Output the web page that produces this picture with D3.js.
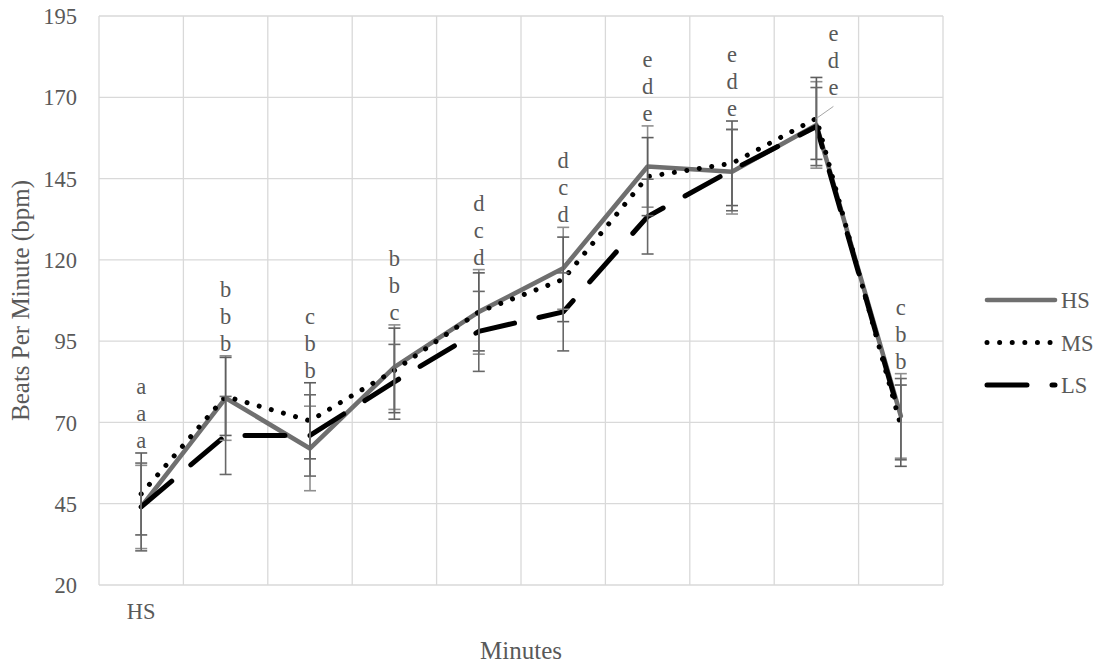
<!DOCTYPE html>
<html>
<head>
<meta charset="utf-8">
<script src="https://cdn.jsdelivr.net/npm/d3@7"></script>
<style>
	body { margin: 0; background: #fff; }
</style>
</head>
<body>
<div id="chart"></div>
<script>
// categories (only the first one carries a label)
const categories = [0, 1, 2, 3, 4, 5, 6, 7, 8, 9];
const tick_labels = ['HS', '', '', '', '', '', '', '', '', ''];
const y_ticks = [20, 45, 70, 95, 120, 145, 170, 195];

const hs_values = [44, 77.5, 62, 87, 104, 117.4, 148.7, 147.1, 161.5, 72];
const ms_values = [48, 78, 70.5, 86, 104, 114, 145.6, 149.7, 163.5, 69];
const ls_values = [44, 66, 66, 82.5, 98, 104, 133.3, 147.6, 161, 71];

const hs_error = [12.8, 13, 13, 13, 13, 12.6, 12.5, 13, 13.3, 13];
const ms_error = [12.6, 12, 11.7, 13, 12, 13, 12, 13, 12.6, 12.5];
const ls_error = [13.5, 12, 12.5, 11.5, 12.3, 12, 11.5, 12.5, 12, 12.5];

// significance letters, top to bottom
const letters_top = ['a', 'b', 'c', 'b', 'd', 'd', 'e', 'e', 'e', 'c'];
const letters_mid = ['a', 'b', 'b', 'b', 'c', 'c', 'd', 'd', 'd', 'b'];
const letters_bot = ['a', 'b', 'b', 'c', 'd', 'd', 'e', 'e', 'e', 'b'];

const series = [
	{ name: 'HS', values: hs_values, error: hs_error, colour: '#6f6f6f', width: 4.6, dash: null, bar: '#8f8f8f' },
	{ name: 'MS', values: ms_values, error: ms_error, colour: '#000', width: 5, dash: '0.01 12.6', bar: '#5e5e5e' },
	{ name: 'LS', values: ls_values, error: ls_error, colour: '#000', width: 5, dash: '40 25', bar: '#686868' },
];

const font = '"Liberation Serif", "Times New Roman", Times, "DejaVu Serif", serif';
const text_colour = '#595959';

const width = 1102;
const height = 664;
const margin = { left: 99, right: 159, top: 16, bottom: 79 };

const svg = d3.select('#chart').append('svg')
	.attr('width', width)
	.attr('height', height);

const x = d3.scaleBand()
	.domain(categories)
	.range([margin.left, width - margin.right]);

const y = d3.scaleLinear()
	.domain([20, 195])
	.range([height - margin.bottom, margin.top]);

const cx = i => x(i) + x.bandwidth() / 2;

const style_text = sel => sel
	.style('font-family', font)
	.style('fill', text_colour);

// grid
const grid = svg.append('g');
grid.selectAll('line.h')
	.data(y_ticks)
	.enter()
	.append('line')
	.attr('x1', margin.left)
	.attr('x2', width - margin.right)
	.attr('y1', d => y(d))
	.attr('y2', d => y(d))
	.style('stroke', '#d9d9d9')
	.style('stroke-width', 1.3);

const edges = categories.map(c => x(c)).concat([x.range()[1]]);
grid.selectAll('line.v')
	.data(edges)
	.enter()
	.append('line')
	.attr('x1', d => d)
	.attr('x2', d => d)
	.attr('y1', y(195))
	.attr('y2', y(20))
	.style('stroke', '#d9d9d9')
	.style('stroke-width', 1.3);

// y axis labels
const y_axis = svg.append('g')
	.attr('transform', `translate(${margin.left - 22},0)`)
	.call(d3.axisLeft(y).tickValues(y_ticks).tickSize(0).tickPadding(0));
y_axis.select('.domain').remove();
y_axis.selectAll('text')
	.attr('font-size', '22.5px')
	.attr('dy', '0.34em')
	.call(style_text);

// x axis labels
const x_axis = svg.append('g')
	.attr('transform', `translate(0,${y(20) + 16})`)
	.call(d3.axisBottom(x).tickSize(0).tickPadding(0).tickFormat(i => tick_labels[i]));
x_axis.select('.domain').remove();
x_axis.selectAll('text')
	.attr('font-size', '22.5px')
	.attr('dy', '0.8em')
	.call(style_text);

// axis titles
svg.append('text')
	.attr('x', (margin.left + width - margin.right) / 2)
	.attr('y', 659)
	.attr('text-anchor', 'middle')
	.attr('font-size', '25px')
	.call(style_text)
	.text('Minutes');

svg.append('text')
	.attr('transform', `translate(29,${(y(20) + y(195)) / 2}) rotate(-90)`)
	.attr('text-anchor', 'middle')
	.attr('font-size', '25px')
	.call(style_text)
	.text('Beats Per Minute (bpm)');

// lines
const line = d3.line()
	.x((d, i) => cx(i))
	.y(d => y(d));

const lines = svg.append('g');
series.forEach(s => {
	lines.append('path')
		.attr('d', line(s.values))
		.style('fill', 'none')
		.style('stroke', s.colour)
		.style('stroke-width', s.width)
		.style('stroke-linecap', 'round')
		.style('stroke-linejoin', 'round')
		.style('stroke-dasharray', s.dash);
});

// error bars
const bars = svg.append('g');
series.forEach(s => {
	const g = bars.append('g').style('stroke', s.bar).style('stroke-width', 1.6);
	s.values.forEach((v, i) => {
		const lo = y(v - s.error[i]);
		const hi = y(v + s.error[i]);
		g.append('line').attr('x1', cx(i)).attr('x2', cx(i)).attr('y1', lo).attr('y2', hi);
		g.append('line').attr('x1', cx(i) - 6).attr('x2', cx(i) + 6).attr('y1', lo).attr('y2', lo);
		g.append('line').attr('x1', cx(i) - 6).attr('x2', cx(i) + 6).attr('y1', hi).attr('y2', hi);
	});
});

// letters above the highest error bar; the label at the peak was dragged aside
const moved = 8;
const labels = svg.append('g');
categories.forEach(i => {
	const top = d3.max(series, s => s.values[i] + s.error[i]);
	let lx = cx(i);
	let base = y(top) - 5;
	if (i == moved) {
		lx += 17;
		base = y(top) + 18;
		labels.append('line')
			.attr('x1', cx(i))
			.attr('y1', y(ms_values[i]))
			.attr('x2', cx(i) + 17)
			.attr('y2', y(ms_values[i]) - 12)
			.style('stroke', '#a6a6a6')
			.style('stroke-width', 1);
	}
	[letters_bot[i], letters_mid[i], letters_top[i]].forEach((t, k) => {
		labels.append('text')
			.attr('x', lx)
			.attr('y', base - k * 27)
			.attr('text-anchor', 'middle')
			.attr('font-size', '22.5px')
			.call(style_text)
			.text(t);
	});
});

// legend
const legend = svg.append('g');
series.forEach((s, k) => {
	const ly = 300 + k * 42.5;
	legend.append('path')
		.attr('d', `M987,${ly}H1055`)
		.style('fill', 'none')
		.style('stroke', s.colour)
		.style('stroke-width', s.width)
		.style('stroke-linecap', 'round')
		.style('stroke-dasharray', s.dash);
	legend.append('text')
		.attr('x', 1061)
		.attr('y', ly + 8)
		.attr('font-size', '22.5px')
		.call(style_text)
		.text(s.name);
});
</script>
</body>
</html>
